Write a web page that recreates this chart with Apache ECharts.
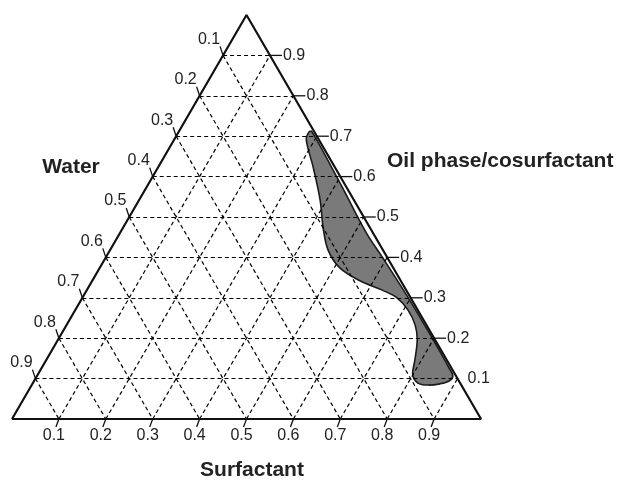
<!DOCTYPE html>
<html><head><meta charset="utf-8">
<script src="https://cdn.jsdelivr.net/npm/echarts@6/dist/echarts.min.js"></script>
<style>html,body{margin:0;padding:0;background:#fff}#c{width:618px;height:480px}</style>
</head><body><div id="c"></div>
<script>
// ---- data ----
const tickValues = [0.1, 0.2, 0.3, 0.4, 0.5, 0.6, 0.7, 0.8, 0.9];
const tickLabels = ['0.1', '0.2', '0.3', '0.4', '0.5', '0.6', '0.7', '0.8', '0.9'];
const axisNames = ['Water', 'Oil phase/cosurfactant', 'Surfactant'];
// region boundary (ternary fractions): surfactant and oil; water = 1 - S - O
const regionSurfactant = [0.283, 0.392, 0.440, 0.487, 0.536, 0.590, 0.695, 0.796, 0.870,
  0.887, 0.885, 0.869, 0.845, 0.821, 0.800, 0.786, 0.766, 0.743, 0.709, 0.671, 0.630,
  0.571, 0.512, 0.465, 0.427, 0.386, 0.330, 0.282, 0.278];
const regionOil = [0.712, 0.600, 0.550, 0.500, 0.450, 0.400, 0.300, 0.200, 0.125,
  0.106, 0.094, 0.087, 0.084, 0.089, 0.109, 0.146, 0.196, 0.233, 0.270, 0.300, 0.319,
  0.342, 0.374, 0.418, 0.473, 0.542, 0.624, 0.691, 0.710];

// ternary (surfactant, oil) -> cartesian
function toXY(s, o) { return [s + o / 2, o]; }

const FONT = '"Liberation Sans", Arial, Helvetica, sans-serif';

// gridlines
const gridLines = [];
tickValues.forEach(v => {
  gridLines.push({ coords: [toXY(0, v), toXY(1 - v, v)] });      // oil = const
  gridLines.push({ coords: [toXY(v, 0), toXY(v, 1 - v)] });      // surfactant = const
  gridLines.push({ coords: [toXY(0, 1 - v), toXY(1 - v, 0)] });  // water = const
});

const tickData = [];
tickValues.forEach((v, i) => { tickData.push([0, i]); tickData.push([1, i]); tickData.push([2, i]); });

const chart = echarts.init(document.getElementById('c'), null, { renderer: 'canvas' });
chart.setOption({
  animation: false,
  grid: { left: 12, top: 15, width: 469, height: 404 },
  xAxis: { type: 'value', min: 0, max: 1, show: false },
  yAxis: { type: 'value', min: 0, max: 1, show: false },
  series: [
    {
      type: 'custom', z: 1,
      data: regionSurfactant.map((s, i) => toXY(s, regionOil[i])),
      renderItem: function (params, api) {
        if (params.dataIndex !== 0) return;
        const pts = regionSurfactant.map((s, i) => api.coord(toXY(s, regionOil[i])));
        return { type: 'polygon', shape: { points: pts, smooth: 0.35 },
          style: { fill: '#7a7a7a', stroke: '#1a1a1a', lineWidth: 1.6 } };
      }
    },
    {
      type: 'lines', coordinateSystem: 'cartesian2d', z: 2,
      data: gridLines, symbol: 'none',
      lineStyle: { color: '#000', width: 1.2, type: [4, 3], opacity: 1 }
    },
    {
      type: 'line', z: 3, symbol: 'none',
      data: [toXY(0, 0), toXY(1, 0), toXY(0, 1), toXY(0, 0)],
      lineStyle: { color: '#111', width: 2.2 }
    },
    {
      type: 'custom', z: 4,
      data: tickData,
      renderItem: function (params, api) {
        const ax = api.value(0), idx = api.value(1);
        const v = tickValues[idx], lab = tickLabels[idx];
        let p, tick, tx, ty, align;
        if (ax === 0) { // water, left edge
          p = api.coord(toXY(0, 1 - v));
          tick = [p[0], p[1], p[0] - 3, p[1] - 9];
          tx = p[0] - 14; ty = p[1] - 16; align = 'center';
        } else if (ax === 1) { // oil, right edge
          p = api.coord(toXY(1 - v, v));
          tick = idx === 0 ? null : [p[0], p[1], p[0] + 12, p[1]];
          tx = p[0] + (idx === 0 ? 10 : 13); ty = p[1]; align = 'left';
        } else { // surfactant, base
          p = api.coord(toXY(v, 0));
          tick = [p[0], p[1], p[0] - 3, p[1] + 8];
          tx = p[0] - 5; ty = p[1] + 17; align = 'center';
        }
        const children = [];
        if (tick) children.push({ type: 'line', shape: { x1: tick[0], y1: tick[1], x2: tick[2], y2: tick[3] },
          style: { stroke: '#111', lineWidth: 1.3 } });
        children.push({ type: 'text', x: tx, y: ty,
          style: { text: lab, fill: '#222', font: '16px ' + FONT, textAlign: align, textVerticalAlign: 'middle' } });
        return { type: 'group', children: children };
      }
    }
  ],
  graphic: [
    { type: 'text', x: 71, y: 167, style: { text: axisNames[0], fill: '#222', font: 'bold 21px ' + FONT, textAlign: 'center', textVerticalAlign: 'middle' } },
    { type: 'text', x: 387, y: 161, style: { text: axisNames[1], fill: '#222', font: 'bold 21px ' + FONT, textAlign: 'left', textVerticalAlign: 'middle' } },
    { type: 'text', x: 252, y: 470, style: { text: axisNames[2], fill: '#222', font: 'bold 21px ' + FONT, textAlign: 'center', textVerticalAlign: 'middle' } }
  ]
});
</script>
</body></html>
